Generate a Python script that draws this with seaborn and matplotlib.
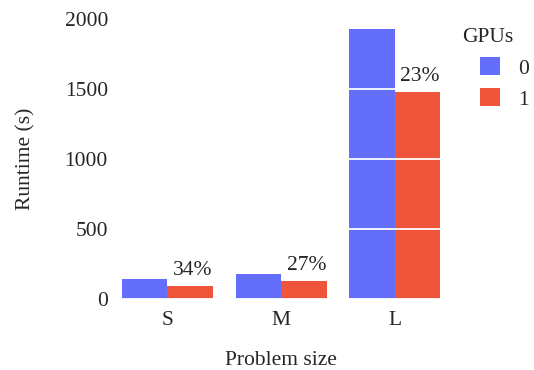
import matplotlib
matplotlib.use("Agg")
import matplotlib.pyplot as plt
from matplotlib.patches import Patch
import seaborn as sns
import pandas as pd

# Runtime per problem size, without (0) and with (1) a GPU
sizes = ["S", "M", "L"]
gpu_counts = ["0", "1"]
runtime_0gpu = [140, 176, 1926]
runtime_1gpu = [92, 128, 1476]
y_ticks = [0, 500, 1000, 1500, 2000]

colors = {"0": "#636EFA", "1": "#EF553B"}
FS = 15.5

df = pd.DataFrame({
    "size": sizes * 2,
    "gpus": [gpu_counts[0]] * len(sizes) + [gpu_counts[1]] * len(sizes),
    "runtime": runtime_0gpu + runtime_1gpu,
})

sns.set_theme(style="white")
plt.rcParams["font.family"] = ["Liberation Serif", "DejaVu Serif"]
plt.rcParams["font.size"] = FS

fig = plt.figure(figsize=(5.34, 3.70), dpi=100)
ax = fig.add_axes([0.2073, 0.1927, 0.8455 - 0.2073, 0.9495 - 0.1927])

sns.barplot(data=df, x="size", y="runtime", hue="gpus", order=sizes,
            hue_order=gpu_counts, palette=colors, errorbar=None,
            saturation=1, width=0.8, linewidth=0, ax=ax, legend=False)

ax.set_xlim(-0.5, 2.5)
ax.set_ylim(0, 2000)
ax.set_yticks(y_ticks)
ax.set_yticklabels([str(t) for t in y_ticks], fontsize=FS)
ax.tick_params(axis="y", length=0, pad=2)
ax.tick_params(axis="x", length=0, pad=9, labelsize=FS)
for s in ax.spines.values():
    s.set_visible(False)

# white gridlines drawn over the bars
ax.set_axisbelow(False)
ax.yaxis.grid(True, color="white", linewidth=1.3)
ax.xaxis.grid(False)

ax.set_xlabel("Problem size", fontsize=FS, labelpad=15)
ax.set_ylabel("Runtime (s)", fontsize=FS, labelpad=21)

# speed-up labels above the GPU bars
for i, (r0, r1) in enumerate(zip(runtime_0gpu, runtime_1gpu)):
    pct = round((1 - r1 / r0) * 100)
    ax.annotate(f"{pct}%", xy=(i + 0.2, r1), xytext=(2, 11),
                textcoords="offset points", ha="center", va="center",
                fontsize=FS)

handles = [Patch(facecolor=colors[g], edgecolor="none") for g in gpu_counts]
fig.text(462 / 534, 1 - 38 / 370, "GPUs", fontsize=FS, ha="left", va="center")
fig.legend(handles, gpu_counts, loc="upper left",
           bbox_to_anchor=(476 / 534, 1 - 53 / 370), frameon=False,
           handlelength=0.9, handleheight=0.9, handletextpad=0.85,
           labelspacing=0.45, borderpad=0.2, borderaxespad=0, fontsize=FS)

fig.savefig("out.png", dpi=100)
